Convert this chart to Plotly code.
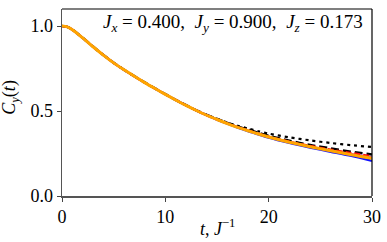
import plotly.graph_objects as go

t_main = [0, 0.5, 1, 2, 3, 4, 5, 6, 7, 8, 9, 10, 11, 12, 13, 14, 15, 16, 17, 18, 19, 20, 22, 24, 26, 28, 30]
orange = [1.0, 0.995, 0.978, 0.93, 0.878, 0.829, 0.783, 0.742, 0.704, 0.667, 0.632, 0.598, 0.565, 0.533, 0.503,
          0.475, 0.45, 0.426, 0.404, 0.384, 0.365, 0.347, 0.316, 0.29, 0.266, 0.243, 0.222]
blue = [1.0, 0.995, 0.978, 0.93, 0.878, 0.829, 0.783, 0.742, 0.704, 0.667, 0.632, 0.598, 0.565, 0.533, 0.503,
        0.475, 0.449, 0.425, 0.402, 0.381, 0.362, 0.343, 0.312, 0.285, 0.26, 0.235, 0.207]
magenta = [1.0, 0.995, 0.978, 0.93, 0.878, 0.829, 0.783, 0.742, 0.704, 0.667, 0.632, 0.598, 0.565, 0.533, 0.503,
           0.475, 0.45, 0.427, 0.405, 0.385, 0.366, 0.348, 0.318, 0.292, 0.269, 0.247, 0.228]
red = [1.0, 0.995, 0.978, 0.93, 0.878, 0.829, 0.783, 0.742, 0.704, 0.667, 0.632, 0.598, 0.565, 0.533, 0.503,
       0.475, 0.45, 0.427, 0.406, 0.386, 0.367, 0.349, 0.32, 0.295, 0.273, 0.253, 0.234]
black_dash = [1.0, 0.995, 0.979, 0.931, 0.879, 0.83, 0.784, 0.743, 0.705, 0.668, 0.633, 0.599, 0.566, 0.534, 0.504,
              0.477, 0.453, 0.43, 0.409, 0.39, 0.372, 0.354, 0.325, 0.30, 0.28, 0.26, 0.244]
black_dot = [1.0, 0.995, 0.978, 0.93, 0.878, 0.829, 0.783, 0.742, 0.704, 0.667, 0.632, 0.598, 0.565, 0.533, 0.504,
             0.477, 0.454, 0.432, 0.413, 0.397, 0.381, 0.367, 0.345, 0.327, 0.312, 0.299, 0.288]

x_ticks = [0, 10, 20, 30]
y_ticks = [0.0, 0.5, 1.0]
y_tick_labels = ["0.0", "0.5", "1.0"]

FONT = "Liberation Serif"

fig = go.Figure()
series = [
    (black_dot, "black", 2.2, "3px,4px"),
    (black_dash, "black", 2.5, "8px,4px"),
    (blue, "#1010ff", 2.2, "solid"),
    (magenta, "#e020c0", 2.0, "solid"),
    (red, "#ff1010", 2.2, "6px,3px"),
    (orange, "#ffa500", 3.0, "solid"),
]
for ys, col, w, dash in series:
    fig.add_trace(go.Scatter(x=t_main, y=ys, mode="lines",
                             line=dict(color=col, width=w, dash=dash, shape="spline", smoothing=0.8),
                             showlegend=False, hoverinfo="skip"))

EQ = "&nbsp;=&nbsp;"
fig.update_layout(
    width=387, height=242,
    margin=dict(l=62, r=15, t=9, b=46),
    plot_bgcolor="white", paper_bgcolor="white",
    font=dict(family=FONT, size=18, color="black"),
    xaxis=dict(range=[0, 30], tickvals=x_ticks, ticks="outside", ticklen=4, tickcolor="#444",
               showline=True, linecolor="#555", linewidth=1.5, showgrid=False, zeroline=False,
               automargin=False, tickfont=dict(family=FONT, size=18)),
    yaxis=dict(range=[0, 1.1], tickvals=y_ticks, ticktext=y_tick_labels, ticks="outside", ticklen=4,
               tickcolor="#444", showline=True, linecolor="#555", linewidth=1.5, showgrid=False,
               zeroline=False, automargin=False, tickfont=dict(family=FONT, size=18)),
    shapes=[
        dict(type="line", xref="paper", yref="paper", x0=0, x1=1, y0=1, y1=1,
             line=dict(color="black", width=1.2)),
        dict(type="line", xref="paper", yref="paper", x0=1, x1=1, y0=0, y1=1,
             line=dict(color="black", width=1.2)),
    ],
    annotations=[
        dict(xref="paper", yref="paper", x=0.977, y=1.0, xanchor="right", yanchor="top",
             showarrow=False, font=dict(family=FONT, size=19),
             text=f"<i>J</i><sub><i>x</i></sub>{EQ}0.400,&nbsp; <i>J</i><sub><i>y</i></sub>{EQ}0.900,&nbsp; "
                  f"<i>J</i><sub><i>z</i></sub>{EQ}0.173"),
        dict(xref="paper", yref="paper", x=0.5, y=-0.17, xanchor="center", yanchor="middle",
             showarrow=False, font=dict(family=FONT, size=18),
             text="<i>t</i>, <i>J</i><sup>−1</sup>"),
        dict(xref="paper", yref="paper", x=-0.165, y=0.53, xanchor="center", yanchor="middle",
             textangle=-90, showarrow=False, font=dict(family=FONT, size=18),
             text="<i>C</i><sub><i>y</i></sub>(<i>t</i>)"),
    ],
)

fig.write_html("out.html", post_script="document.body.style.margin='0px';",
               config={"displayModeBar": False, "staticPlot": True})
